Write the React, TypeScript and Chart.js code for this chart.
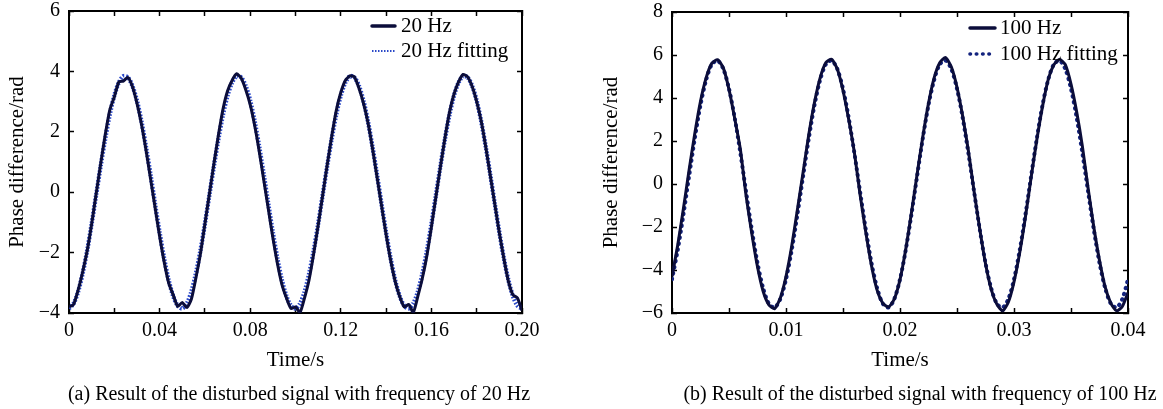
import React, { useEffect, useRef } from 'react';
import { Chart, registerables } from 'chart.js';

Chart.register(...registerables);

const FONT = "'Times New Roman', 'Liberation Serif', serif";

// ---------- Panel (a): 20 Hz ----------
const STEP_A = 0.002; // s between samples
const signalA = [
  -3.80, -3.72, -3.25, -2.65, -1.95, -1.05, -0.05, 0.95, 1.90, 2.72, 3.15, 3.65, 3.68, 3.80, 3.50, 2.95, 2.25, 1.40, 0.45, -0.50, -1.45, -2.30, -3.00, -3.40, -3.78,
  -3.65, -3.82, -3.55, -2.85, -2.05, -1.05, -0.05, 0.95, 1.90, 2.75, 3.35, 3.70, 3.92, 3.78, 3.40, 2.90, 2.20, 1.35, 0.40, -0.55, -1.50, -2.35, -3.05, -3.50, -3.85,
  -3.80, -3.98, -3.50, -2.90, -2.05, -1.10, -0.10, 0.90, 1.85, 2.70, 3.30, 3.70, 3.85, 3.82, 3.45, 2.95, 2.30, 1.45, 0.50, -0.45, -1.40, -2.25, -2.95, -3.45, -3.80,
  -3.72, -3.98, -3.45, -2.85, -2.10, -1.15, -0.15, 0.85, 1.80, 2.65, 3.25, 3.65, 3.90, 3.82, 3.50, 3.00, 2.35, 1.50, 0.55, -0.40, -1.35, -2.20, -2.95, -3.40, -3.50,
  -3.92,
];
const fitA = [
  -3.85, -3.69, -3.30, -2.70, -1.94, -1.05, -0.09, 0.87, 1.77, 2.57, 3.20, 3.63, 3.84, 3.80, 3.52, 3.03, 2.34, 1.50, 0.58, -0.39, -1.33, -2.19, -2.91, -3.44, -3.76,
  -3.85, -3.69, -3.30, -2.70, -1.94, -1.05, -0.09, 0.87, 1.77, 2.57, 3.20, 3.63, 3.84, 3.80, 3.52, 3.03, 2.34, 1.50, 0.58, -0.39, -1.33, -2.19, -2.91, -3.44, -3.76,
  -3.85, -3.69, -3.30, -2.70, -1.94, -1.05, -0.09, 0.87, 1.77, 2.57, 3.20, 3.63, 3.84, 3.80, 3.52, 3.03, 2.34, 1.50, 0.58, -0.39, -1.33, -2.19, -2.91, -3.44, -3.76,
  -3.85, -3.69, -3.30, -2.70, -1.94, -1.05, -0.09, 0.87, 1.77, 2.57, 3.20, 3.63, 3.84, 3.80, 3.52, 3.03, 2.34, 1.50, 0.58, -0.39, -1.33, -2.19, -2.91, -3.44, -3.76,
  -3.85,
];
const xLabelsA = ['0', '0.04', '0.08', '0.12', '0.16', '0.20'];
const yLabelsA = ['\u22124', '\u22122', '0', '2', '4', '6'];
const seriesNamesA = ['20 Hz', '20 Hz fitting'];
const captionA = '(a) Result of the disturbed signal with frequency of 20 Hz';

// ---------- Panel (b): 100 Hz ----------
const STEP_B = 0.0005;
const signalB = [
  -4.30, -2.85, -1.15, 0.65, 2.35, 3.85, 4.95, 5.62, 5.78, 5.40, 4.40, 3.05, 1.60, -0.55, -2.30, -3.85, -5.00, -5.62, -5.80, -5.30,
  -4.30, -2.90, -1.20, 0.55, 2.30, 3.80, 4.95, 5.65, 5.80, 5.35, 4.35, 3.00, 1.45, -0.50, -2.25, -3.80, -4.95, -5.55, -5.72, -5.35,
  -4.45, -3.05, -1.35, 0.45, 2.20, 3.75, 4.95, 5.65, 5.88, 5.45, 4.50, 3.15, 1.55, -0.35, -2.10, -3.70, -4.90, -5.60, -5.90, -5.50,
  -4.55, -3.20, -1.55, 0.30, 2.05, 3.60, 4.85, 5.55, 5.80, 5.55, 4.65, 3.35, 1.75, -0.20, -2.00, -3.55, -4.80, -5.55, -5.90, -5.70,
  -5.05,
];
const fitB = [
  -4.43, -3.08, -1.43, 0.36, 2.12, 3.67, 4.85, 5.57, 5.74, 5.35, 4.43, 3.08, 1.43, -0.36, -2.12, -3.67, -4.85, -5.57, -5.74, -5.35,
  -4.43, -3.08, -1.43, 0.36, 2.12, 3.67, 4.85, 5.57, 5.74, 5.35, 4.43, 3.08, 1.43, -0.36, -2.12, -3.67, -4.85, -5.57, -5.74, -5.35,
  -4.43, -3.08, -1.43, 0.36, 2.12, 3.67, 4.85, 5.57, 5.74, 5.35, 4.43, 3.08, 1.43, -0.36, -2.12, -3.67, -4.85, -5.57, -5.74, -5.35,
  -4.43, -3.08, -1.43, 0.36, 2.12, 3.67, 4.85, 5.57, 5.74, 5.35, 4.43, 3.08, 1.43, -0.36, -2.12, -3.67, -4.85, -5.57, -5.74, -5.35,
  -4.43,
];
const xLabelsB = ['0', '0.01', '0.02', '0.03', '0.04'];
const yLabelsB = ['\u22126', '\u22124', '\u22122', '0', '2', '4', '6', '8'];
const seriesNamesB = ['100 Hz', '100 Hz fitting'];
const captionB = '(b) Result of the disturbed signal with frequency of 100 Hz';

// Legend drawn inside the plot area (MATLAB style, no box)
const insideLegend = {
  id: 'insideLegend',
  afterDraw(chart: any, _args: any, opts: any) {
    const { ctx, chartArea } = chart;
    ctx.save();
    chart.data.datasets.forEach((ds: any, i: number) => {
      const y = chartArea.top + opts.top + i * opts.rowGap;
      const x0 = chartArea.right + opts.offsetX;
      ctx.beginPath();
      ctx.strokeStyle = ds.borderColor;
      ctx.lineWidth = i === 0 ? opts.solidWidth : opts.dotWidth;
      ctx.setLineDash(i === 0 ? [] : opts.dotDash);
      ctx.lineCap = i === 0 ? 'round' : ds.borderCapStyle || 'butt';
      ctx.moveTo(x0, y);
      ctx.lineTo(x0 + opts.lineLen, y);
      ctx.stroke();
      ctx.setLineDash([]);
      ctx.fillStyle = '#000';
      ctx.font = `${opts.fontSize}px ${FONT}`;
      ctx.textBaseline = 'middle';
      ctx.textAlign = 'left';
      ctx.fillText(ds.label, x0 + opts.lineLen + opts.gap, y);
    });
    ctx.restore();
  },
};

// Figure caption under each panel
const panelCaption = {
  id: 'panelCaption',
  afterDraw(chart: any, _args: any, opts: any) {
    const { ctx } = chart;
    ctx.save();
    ctx.fillStyle = '#000';
    ctx.font = `${opts.fontSize}px ${FONT}`;
    ctx.textBaseline = 'middle';
    ctx.textAlign = 'center';
    ctx.fillText(opts.text, opts.x, opts.y);
    ctx.restore();
  },
};

type PanelSpec = {
  step: number;
  signal: number[];
  fit: number[];
  names: string[];
  caption: string;
  captionX: number;
  xMin: number; xMax: number; xStep: number; xLabels: string[];
  yMin: number; yMax: number; yStep: number; yLabels: string[];
  yWidth: number; padRight: number; padTop: number; yTitlePad: number;
  fitColor: string; fitWidth: number; fitDash: number[]; fitCap: string;
  legend: any;
};

function buildConfig(p: PanelSpec): any {
  const times = p.signal.map((_, i) => Math.round(i * p.step * 1e6) / 1e6);
  const toPoints = (arr: number[]) => arr.map((v, i) => ({ x: times[i], y: v }));
  const tickFont = { family: FONT, size: 20, lineHeight: 1.2 };
  const titleFont = { family: FONT, size: 21, lineHeight: 1.2 };
  const grid = {
    display: true,
    drawOnChartArea: false,
    drawTicks: true,
    tickLength: -5,
    tickColor: '#000',
    tickWidth: 1.5,
    color: '#000',
  };
  const border = { display: true, color: '#000', width: 2 };
  const xAxisHeight = 60;
  return {
    type: 'line',
    data: {
      datasets: [
        {
          label: p.names[0],
          data: toPoints(p.signal),
          borderColor: '#0b0d3a',
          borderWidth: 3,
          pointRadius: 0,
          tension: 0.2,
          fill: false,
          borderJoinStyle: 'round',
          xAxisID: 'x',
          yAxisID: 'y',
        },
        {
          label: p.names[1],
          data: toPoints(p.fit),
          borderColor: p.fitColor,
          borderWidth: p.fitWidth,
          borderDash: p.fitDash,
          borderCapStyle: p.fitCap,
          pointRadius: 0,
          tension: 0.3,
          fill: false,
          xAxisID: 'x',
          yAxisID: 'y',
        },
      ],
    },
    options: {
      responsive: false,
      animation: false,
      devicePixelRatio: 1,
      events: [],
      layout: { padding: { left: 0, right: p.padRight, top: p.padTop, bottom: 409 - 313 - xAxisHeight } },
      plugins: {
        legend: { display: false },
        tooltip: { enabled: false },
        title: { display: false },
        insideLegend: p.legend,
        panelCaption: { text: p.caption, x: p.captionX, y: 395, fontSize: 20 },
      },
      scales: {
        x: {
          type: 'linear',
          position: 'bottom',
          min: p.xMin,
          max: p.xMax,
          ticks: {
            stepSize: p.xStep,
            autoSkip: false,
            maxRotation: 0,
            padding: 11,
            color: '#000',
            font: tickFont,
            callback: (_v: number, i: number) => (i % 2 === 0 ? p.xLabels[i / 2] : ''),
          },
          grid,
          border,
          title: { display: true, text: 'Time/s', color: '#000', font: titleFont, padding: 0 },
          afterFit: (s: any) => { s.height = xAxisHeight; s.paddingLeft = 0; s.paddingRight = 0; },
        },
        x2: {
          type: 'linear',
          position: 'top',
          min: p.xMin,
          max: p.xMax,
          ticks: { stepSize: p.xStep, autoSkip: false, display: false },
          grid,
          border,
          afterFit: (s: any) => { s.height = 0; s.paddingLeft = 0; s.paddingRight = 0; },
        },
        y: {
          type: 'linear',
          position: 'left',
          min: p.yMin,
          max: p.yMax,
          ticks: {
            stepSize: p.yStep,
            autoSkip: false,
            padding: 14,
            color: '#000',
            font: tickFont,
            callback: (_v: number, i: number) => p.yLabels[i],
          },
          grid,
          border,
          title: {
            display: true,
            text: 'Phase difference/rad',
            color: '#000',
            font: titleFont,
            padding: { top: p.yTitlePad, bottom: 0 },
          },
          afterFit: (s: any) => { s.width = p.yWidth; s.paddingTop = 0; s.paddingBottom = 0; },
        },
        y2: {
          type: 'linear',
          position: 'right',
          min: p.yMin,
          max: p.yMax,
          ticks: { stepSize: p.yStep, autoSkip: false, display: false },
          grid,
          border,
          afterFit: (s: any) => { s.width = 0; s.paddingTop = 0; s.paddingBottom = 0; },
        },
      },
    },
    plugins: [insideLegend, panelCaption],
  };
}

const specA: PanelSpec = {
  step: STEP_A, signal: signalA, fit: fitA, names: seriesNamesA, caption: captionA, captionX: 299,
  xMin: 0, xMax: 0.2, xStep: 0.02, xLabels: xLabelsA,
  yMin: -4, yMax: 6, yStep: 2, yLabels: yLabelsA,
  yWidth: 69, padRight: 59, padTop: 11, yTitlePad: 5,
  fitColor: '#2a48c8', fitWidth: 4.4, fitDash: [1.6, 1.6], fitCap: 'butt',
  legend: { top: 15, rowGap: 25, offsetX: -150, lineLen: 23, gap: 6, fontSize: 21, solidWidth: 3.5, dotWidth: 2.2, dotDash: [1.5, 1.5] },
};

const specB: PanelSpec = {
  step: STEP_B, signal: signalB, fit: fitB, names: seriesNamesB, caption: captionB, captionX: 339,
  xMin: 0, xMax: 0.04, xStep: 0.005, xLabels: xLabelsB,
  yMin: -6, yMax: 8, yStep: 2, yLabels: yLabelsB,
  yWidth: 91, padRight: 35, padTop: 12, yTitlePad: 18,
  fitColor: '#13237e', fitWidth: 4, fitDash: [0.5, 5.5], fitCap: 'round',
  legend: { top: 16, rowGap: 26, offsetX: -158, lineLen: 25, gap: 5, fontSize: 21, solidWidth: 3.5, dotWidth: 3.6, dotDash: [0.5, 5.8] },
};

function Panel({ spec, left, width }: { spec: PanelSpec; left: number; width: number }) {
  const ref = useRef<HTMLCanvasElement | null>(null);
  useEffect(() => {
    if (!ref.current) return;
    const chart = new Chart(ref.current, buildConfig(spec));
    return () => chart.destroy();
  }, [spec]);
  return (
    <canvas
      ref={ref}
      width={width}
      height={409}
      style={{ position: 'absolute', left, top: 0, width, height: 409, display: 'block' }}
    />
  );
}

export default function App() {
  return (
    <div style={{ position: 'absolute', left: 0, top: 0, width: 1163, height: 409, background: '#fff', overflow: 'hidden' }}>
      <Panel spec={specA} left={0} width={581} />
      <Panel spec={specB} left={581} width={582} />
    </div>
  );
}
